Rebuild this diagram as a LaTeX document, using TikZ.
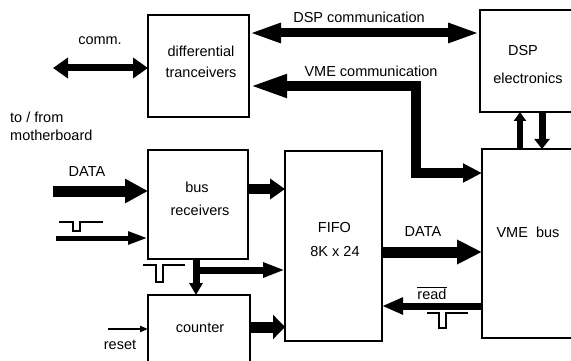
\documentclass[tikz,border=0pt]{standalone}
\usepackage{fontspec}
\setmainfont{Liberation Sans}
\usetikzlibrary{arrows.meta}
\tikzset{
  box/.style={draw, line width=1.1pt, inner sep=0pt, outer sep=0pt},
  lbl/.style={inner sep=0pt, font=\fontsize{14.5}{17}\selectfont},
  pulse/.style={line width=1.2pt, line join=miter},
  ar/.style n args={3}{line width=#1, line join=miter, -{Triangle[length=#2,width=#3]}},
  dar/.style n args={3}{line width=#1, line join=miter, {Triangle[length=#2,width=#3]}-{Triangle[length=#2,width=#3]}}
}
\begin{document}
\begin{tikzpicture}[x=1pt,y=-1pt]
\useasboundingbox (0,0) rectangle (571,361);
\clip (0,0) rectangle (571,361);
% boxes
\node[box,minimum width=101pt,minimum height=102pt] (diff) at (198.5,66) {};
\node[box,minimum width=120pt,minimum height=102pt] (dsp) at (540,61) {};
\node[box,minimum width=100pt,minimum height=109pt] (bus) at (198,204.5) {};
\node[box,minimum width=102pt,minimum height=105pt] (cnt) at (199,347.5) {};
\node[box,minimum width=97pt,minimum height=190pt] (fifo) at (333.5,246) {};
\node[box,minimum width=118pt,minimum height=189pt] (vme) at (541,243.5) {};
% box texts
\node[lbl] (t1) at (201,51) {differential};
\node[lbl] (t2) at (201,72) {tranceivers};
\node[lbl] (t3) at (523,51) {DSP};
\node[lbl] (t4) at (528,78) {electronics};
\node[lbl] (t5) at (197,187) {bus};
\node[lbl] (t6) at (200,210) {receivers};
\node[lbl] (t7) at (200,328) {counter};
\node[lbl] (t8) at (334.5,228) {FIFO};
\node[lbl] (t9) at (335,252) {8K x 24};
\node[lbl] (t10) at (528,232) {VME\ \ bus};
% other texts
\node[lbl] (l1) at (100,41) {comm.};
\node[lbl,anchor=west,align=left,font=\fontsize{14.5}{18}\selectfont] (l2) at (10,126) {to / from\\motherboard};
\node[lbl] (l3) at (359,17) {DSP communication};
\node[lbl] (l4) at (371,71) {VME communication};
\node[lbl] (l5) at (87,172) {DATA};
\node[lbl] (l6) at (423,232) {DATA};
\node[lbl] (l7) at (432,293) {$\overline{\mbox{read}}$};
\node[lbl] (l8) at (120,345) {reset};
% connectors
\coordinate (commL) at (53,68);
\draw[dar={7pt}{15pt}{20pt}] (commL) -- (diff.west |- commL);
\coordinate (dspy) at (0,33);
\draw[dar={9pt}{32pt}{18pt}] (diff.east |- dspy) -- (dsp.west |- dspy);
\coordinate (v1) at (416,86);
\coordinate (v2) at (416,173);
\draw[line width=10pt, line join=miter, {Triangle[length=38pt,width=21pt]}-{Triangle[length=19pt,width=18pt]}]
  (diff.east |- v1) -- (v1) -- (v2) -- (vme.west |- v2);
\coordinate (ux) at (520,0);
\draw[ar={6pt}{9pt}{12pt}] (vme.north -| ux) -- (dsp.south -| ux);
\coordinate (dx) at (542,0);
\draw[ar={7pt}{10pt}{15pt}] (dsp.south -| dx) -- (vme.north -| dx);
\coordinate (datain) at (53,191);
\draw[ar={11pt}{23pt}{23pt}] (datain) -- (bus.west |- datain);
\coordinate (pin) at (56,238);
\draw[ar={5pt}{20pt}{12pt}] (pin) -- (bus.west |- pin);
\coordinate (bf) at (0,189);
\draw[ar={10pt}{15pt}{20pt}] (bus.east |- bf) -- (fifo.west |- bf);
\coordinate (bc) at (196,0);
\draw[ar={7pt}{12pt}{13pt}] (bus.south -| bc) -- (cnt.north -| bc);
\coordinate (br) at (193,270);
\draw[ar={7pt}{22pt}{14pt}] (br) -- (fifo.west |- br);
\coordinate (cf) at (0,327);
\draw[ar={11pt}{12pt}{24pt}] (cnt.east |- cf) -- (fifo.west |- cf);
\coordinate (rs) at (108,329);
\draw[ar={2.5pt}{8pt}{6pt}] (rs) -- (cnt.west |- rs);
\coordinate (fv) at (0,252);
\draw[ar={11pt}{25pt}{23pt}] (fifo.east |- fv) -- (vme.west |- fv);
\coordinate (rd) at (0,306);
\draw[ar={7pt}{21pt}{16pt}] (vme.west |- rd) -- (fifo.east |- rd);
% pulse symbols
\draw[pulse] (59,222) -- (73,222) -- (73,231) -- (80,231) -- (80,222) -- (103,222);
\draw[pulse] (143,265) -- (156,265) -- (156,282) -- (163,282) -- (163,265) -- (185,265);
\draw[pulse] (427,313) -- (439,313) -- (439,328) -- (446,328) -- (446,313) -- (468,313);
\end{tikzpicture}
\end{document}
